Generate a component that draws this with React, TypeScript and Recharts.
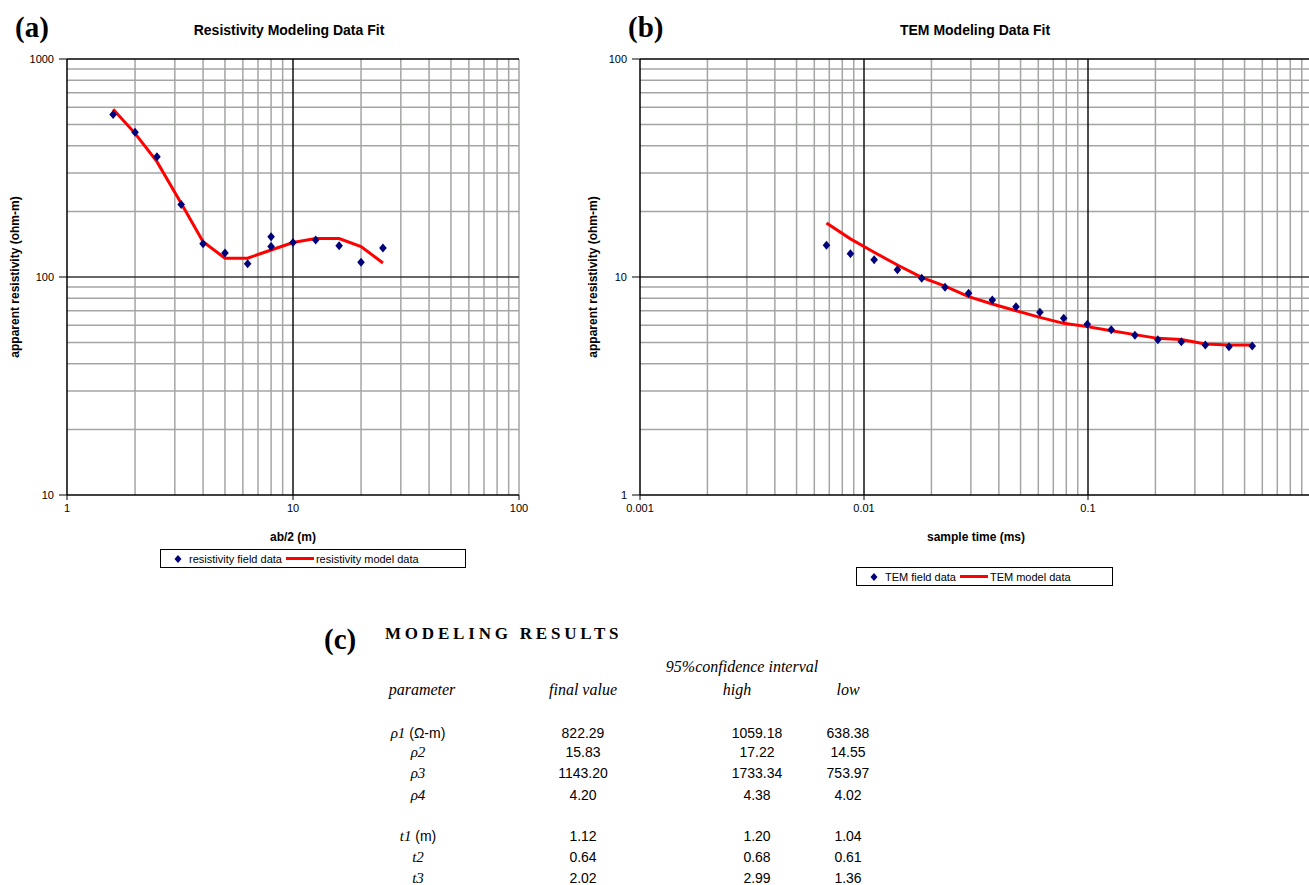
import { ComposedChart, Line, Scatter, XAxis, YAxis, CartesianGrid, ReferenceLine } from 'recharts';

// (a) resistivity sounding: field points and model curve
const abHalf = [1.6, 2, 2.5, 3.2, 4, 5, 6.3, 8, 8, 10, 12.6, 16, 20, 25];
const resField = [557, 461, 356, 215, 142, 129, 115, 153, 138, 144, 148, 139, 117, 136];
const abHalfModel = [1.6, 2, 2.5, 3.2, 4, 5, 6.3, 8, 10, 12.6, 16, 20, 25];
const resModel = [588, 456, 338, 218, 145, 122, 122, 133, 144, 150, 150, 138, 116];

// (b) TEM sounding
const sampleTime = [0.0068, 0.0087, 0.0111, 0.0141, 0.0181, 0.023, 0.0293, 0.0374, 0.0477, 0.061, 0.0779, 0.0993, 0.127, 0.162, 0.205, 0.261, 0.334, 0.426, 0.541];
const temField = [14.0, 12.8, 12.0, 10.8, 9.86, 8.97, 8.42, 7.84, 7.31, 6.89, 6.47, 6.07, 5.73, 5.4, 5.16, 5.05, 4.88, 4.79, 4.82];
const temModel = [17.7, 14.96, 12.98, 11.35, 9.97, 9.09, 8.12, 7.52, 7.0, 6.53, 6.13, 5.92, 5.67, 5.44, 5.23, 5.17, 4.93, 4.88, 4.88];

// tick labels
const resXTicks = [1, 10, 100];
const resYTicks = [10, 100, 1000];
const temXTicks = [0.001, 0.01, 0.1, 1];
const temYTicks = [1, 10, 100];

// (c) modeling results table
const paramSymbols = ['ρ1', 'ρ2', 'ρ3', 'ρ4', 't1', 't2', 't3'];
const paramUnits = ['(Ω-m)', '', '', '', '(m)', '', ''];
const finalValues = ['822.29', '15.83', '1143.20', '4.20', '1.12', '0.64', '2.02'];
const highValues = ['1059.18', '17.22', '1733.34', '4.38', '1.20', '0.68', '2.99'];
const lowValues = ['638.38', '14.55', '753.97', '4.02', '1.04', '0.61', '1.36'];

const GRID = '#a3a5a3';
const NAVY = '#00007a';
const SANS = '"Liberation Sans", Arial, sans-serif';
const SERIF = '"Liberation Serif", "Times New Roman", serif';

const pairs = (xs: number[], ys: number[]) => xs.map((x, i) => ({ x, y: ys[i] }));

// 2..9 lines inside each decade
function minorValues(decades: number[]) {
    const out: number[] = [];
    decades.forEach(d => {
        for (let k = 2; k <= 9; k++) out.push(+(k * d).toPrecision(3));
    });
    return out;
}

const Diamond = (props: any) => {
    const { cx, cy } = props;
    if (cx == null || cy == null) return <g />;
    return <path d={`M${cx},${cy - 4.5}L${cx + 3.8},${cy}L${cx},${cy + 4.5}L${cx - 3.8},${cy}Z`} fill={NAVY} />;
};

interface PanelProps {
    left: number;
    width: number;
    height: number;
    margin: { top: number; right: number; bottom: number; left: number };
    yAxisWidth: number;
    xDomain: [number, number];
    yDomain: [number, number];
    xTicks: number[];
    yTicks: number[];
    xMinor: number[];
    yMinor: number[];
    xMajor: number[];
    yMajor: number[];
    field: { x: number; y: number }[];
    model: { x: number; y: number }[];
    xLabel: string;
    yLabel: string;
    yLabelOffset: number;
}

function LogPanel(p: PanelProps) {
    const xAxisHeight = p.height - p.margin.bottom - 495;
    return (
        <div style={{ position: 'absolute', left: p.left, top: 0 }}>
            <ComposedChart width={p.width} height={p.height} margin={p.margin}>
                <CartesianGrid verticalValues={p.xMinor} horizontalValues={p.yMinor} stroke={GRID} strokeWidth={1.5} />
                <XAxis
                    type="number"
                    dataKey="x"
                    scale="log"
                    domain={p.xDomain}
                    ticks={p.xTicks}
                    interval={0}
                    allowDataOverflow
                    height={xAxisHeight}
                    tickSize={5}
                    tickMargin={4}
                    tick={{ fontSize: 11, fill: '#000' }}
                    tickLine={{ stroke: '#000' }}
                    axisLine={{ stroke: '#000', strokeWidth: 1.5 }}
                    label={{ value: p.xLabel, position: 'insideBottom', offset: 4, style: { fontWeight: 'bold', fontSize: 12, fill: '#000' } }}
                />
                <YAxis
                    type="number"
                    dataKey="y"
                    scale="log"
                    domain={p.yDomain}
                    ticks={p.yTicks}
                    interval={0}
                    allowDataOverflow
                    width={p.yAxisWidth}
                    tickSize={8}
                    tickMargin={5}
                    tick={{ fontSize: 11, fill: '#000' }}
                    tickLine={{ stroke: '#000' }}
                    axisLine={{ stroke: '#000', strokeWidth: 1.5 }}
                    label={{ value: p.yLabel, angle: -90, position: 'insideLeft', offset: p.yLabelOffset, style: { textAnchor: 'middle', fontWeight: 'bold', fontSize: 12, fill: '#000' } }}
                />
                {p.xMajor.map(v => (
                    <ReferenceLine key={`vx-${v}`} x={v} stroke="#111" strokeWidth={1.5} ifOverflow="visible" />
                ))}
                {p.yMajor.map(v => (
                    <ReferenceLine key={`hy-${v}`} y={v} stroke="#333" strokeWidth={1.5} ifOverflow="visible" />
                ))}
                <ReferenceLine y={p.yDomain[1]} stroke="#000" strokeWidth={1.5} ifOverflow="visible" />
                <Line data={p.model} dataKey="y" type="linear" stroke="#ff0000" strokeWidth={3} dot={false} isAnimationActive={false} />
                <Scatter data={p.field} dataKey="y" shape={Diamond} isAnimationActive={false} />
            </ComposedChart>
        </div>
    );
}

function LegendBox({ left, top, width, fieldLabel, modelLabel }: { left: number; top: number; width: number; fieldLabel: string; modelLabel: string }) {
    return (
        <div
            style={{
                position: 'absolute',
                left,
                top,
                width,
                height: 19,
                boxSizing: 'border-box',
                border: '1px solid #000',
                display: 'flex',
                alignItems: 'center',
                fontSize: 11,
                fontFamily: SANS,
                paddingLeft: 12,
                whiteSpace: 'nowrap',
            }}
        >
            <svg width={10} height={12} style={{ marginRight: 6 }}>
                <path d="M5,2L8.5,6L5,10L1.5,6Z" fill={NAVY} />
            </svg>
            <span>{fieldLabel}</span>
            <span style={{ display: 'inline-block', width: 28, height: 3, background: '#ff0000', margin: '0 2px 0 4px' }} />
            <span>{modelLabel}</span>
        </div>
    );
}

const center = (x: number, y: number): React.CSSProperties => ({
    position: 'absolute',
    left: x,
    top: y,
    transform: 'translate(-50%, -50%)',
    whiteSpace: 'nowrap',
});

export default function App() {
    const resMinorX = [...minorValues([1, 10]), 100];
    const resMinorY = minorValues([10, 100]);
    const temMinorX = minorValues([0.001, 0.01, 0.1]);
    const temMinorY = minorValues([1, 10]);

    const rowY = [733, 752, 773, 795, 836, 857, 878];
    const panelLabel: React.CSSProperties = { position: 'absolute', fontFamily: SERIF, fontWeight: 'bold', fontSize: 29, lineHeight: '34px' };
    const title: React.CSSProperties = { position: 'absolute', top: 21, width: 400, textAlign: 'center', fontFamily: SANS, fontWeight: 'bold', fontSize: 14, lineHeight: '18px' };
    const headItalic: React.CSSProperties = { fontFamily: SERIF, fontStyle: 'italic', fontSize: 16 };
    const cell: React.CSSProperties = { fontFamily: SANS, fontSize: 14 };

    return (
        <div style={{ position: 'absolute', left: 0, top: 0, width: 1309, height: 885, overflow: 'hidden', background: '#fff', fontFamily: SANS }}>
            <div style={{ ...panelLabel, left: 15, top: 10 }}>(a)</div>
            <div style={{ ...panelLabel, left: 628, top: 10 }}>(b)</div>
            <div style={{ ...title, left: 89 }}>Resistivity Modeling Data Fit</div>
            <div style={{ ...title, left: 775 }}>TEM Modeling Data Fit</div>

            <LogPanel
                left={0}
                width={530}
                height={550}
                margin={{ top: 59, right: 11, bottom: 5, left: 5 }}
                yAxisWidth={62}
                xDomain={[1, 100]}
                yDomain={[10, 1000]}
                xTicks={resXTicks}
                yTicks={resYTicks}
                xMinor={resMinorX}
                yMinor={resMinorY}
                xMajor={[10]}
                yMajor={[100]}
                field={pairs(abHalf, resField)}
                model={pairs(abHalfModel, resModel)}
                xLabel="ab/2 (m)"
                yLabel="apparent resistivity (ohm-m)"
                yLabelOffset={10}
            />
            <LogPanel
                left={560}
                width={760}
                height={550}
                margin={{ top: 59, right: 8, bottom: 5, left: 14 }}
                yAxisWidth={66}
                xDomain={[0.001, 1]}
                yDomain={[1, 100]}
                xTicks={temXTicks}
                yTicks={temYTicks}
                xMinor={temMinorX}
                yMinor={temMinorY}
                xMajor={[0.01, 0.1]}
                yMajor={[10]}
                field={pairs(sampleTime, temField)}
                model={pairs(sampleTime, temModel)}
                xLabel="sample time (ms)"
                yLabel="apparent resistivity (ohm-m)"
                yLabelOffset={19}
            />

            <LegendBox left={160} top={549} width={306} fieldLabel="resistivity field data" modelLabel="resistivity model data" />
            <LegendBox left={856} top={567} width={257} fieldLabel="TEM field data" modelLabel="TEM model data" />

            <div style={{ ...panelLabel, left: 324, top: 622 }}>(c)</div>
            <div style={{ position: 'absolute', left: 385, top: 624, fontFamily: SERIF, fontWeight: 'bold', fontSize: 17, letterSpacing: 3.8 }}>MODELING RESULTS</div>

            <div style={{ ...center(742, 667), ...headItalic }}>95%confidence interval</div>
            <div style={{ ...center(422, 690), ...headItalic }}>parameter</div>
            <div style={{ ...center(583, 690), ...headItalic }}>final value</div>
            <div style={{ ...center(737, 690), ...headItalic }}>high</div>
            <div style={{ ...center(848, 690), ...headItalic }}>low</div>

            {paramSymbols.map((s, i) => (
                <div key={s} style={{ ...center(418, rowY[i]), ...cell }}>
                    <i style={{ fontFamily: SERIF, fontSize: 15 }}>{s}</i>
                    {paramUnits[i] ? ` ${paramUnits[i]}` : ''}
                </div>
            ))}
            {finalValues.map((v, i) => (
                <div key={`f${i}`} style={{ ...center(583, rowY[i]), ...cell }}>{v}</div>
            ))}
            {highValues.map((v, i) => (
                <div key={`h${i}`} style={{ ...center(757, rowY[i]), ...cell }}>{v}</div>
            ))}
            {lowValues.map((v, i) => (
                <div key={`l${i}`} style={{ ...center(848, rowY[i]), ...cell }}>{v}</div>
            ))}
        </div>
    );
}
